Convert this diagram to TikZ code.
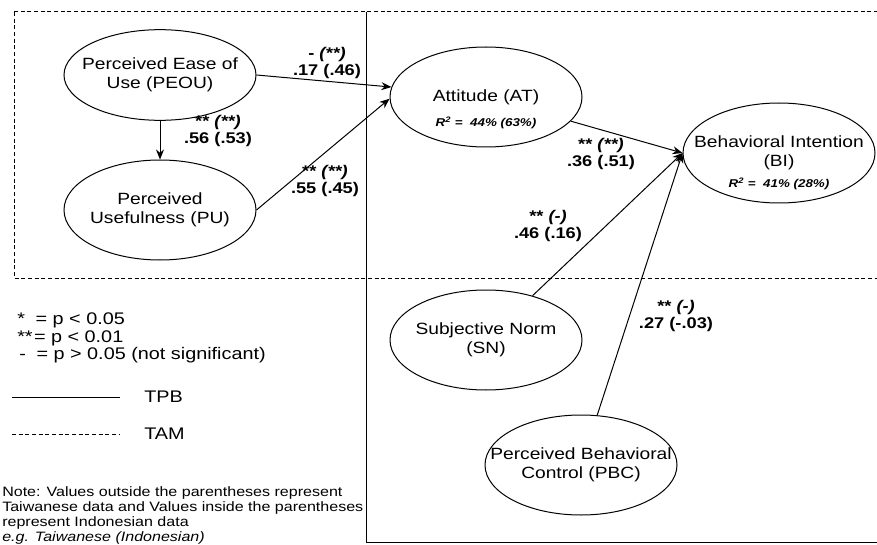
\documentclass[tikz,border=0pt]{standalone}
\usepackage{fontspec}
\setmainfont{Liberation Sans}[FakeStretch=1.18]
\usetikzlibrary{shapes.geometric,arrows.meta}

\tikzset{
  construct/.style={draw, ellipse, line width=0.75pt, inner xsep=-30pt, inner ysep=-6pt,
    minimum width=144pt, minimum height=75pt, align=center,
    font=\fontsize{12.2}{14}\selectfont},
  effect/.style={-{Stealth[length=7.5pt,width=6pt]}, line width=0.75pt},
  coef/.style={align=center, inner sep=0pt, font=\bfseries\fontsize{11.6}{12.2}\selectfont},
  rsq/.style={inner sep=0pt, font=\bfseries\itshape\fontsize{8.5}{10}\selectfont},
  tam/.style={dash pattern=on 3pt off 2pt, line width=0.75pt},
  tpb/.style={line width=0.75pt},
}

\begin{document}
\begin{tikzpicture}[x=0.75pt,y=0.75pt,yscale=-1,xscale=1]
\clip (0,0) rectangle (877,545);

%TAM and TPB frames
\draw[tam] (14,12) rectangle (880,278);
\draw[tpb] (366,12) -- (366,542) -- (880,542);

%Constructs
\node[construct, minimum height=68pt] (peou) at (160,75) {Perceived Ease of\\Use (PEOU)};
\node[construct] (pu) at (160,210) {Perceived\\Usefulness (PU)};
\node[construct] (at) at (486,97) {Attitude (AT)};
\node[construct] (bi) at (779,153) {Behavioral Intention\\(BI)};
\node[construct] (sn) at (486,340) {Subjective Norm\\(SN)};
\node[construct] (pbc) at (581,465) {Perceived Behavioral\\Control (PBC)};

% R square
\node[rsq] (atr) at (486,123) {R\textsuperscript{2} =\ \ 44\% (63\%)};
\node[rsq] (bir) at (779,184) {R\textsuperscript{2} =\ \ 41\% (28\%)};

%Paths
\draw[effect] (peou.east) -- (at.174);
\draw[effect] (peou) -- (pu);
\draw[effect] (pu.east) -- (at.181);
\draw[effect] (at) -- (bi.west);
\draw[effect] (sn) -- (bi.west);
\draw[effect] (pbc) -- (bi.west);

% Coefficients
\node[coef] (c1) at (327,63) {- \textit{(**)}\\.17 (.46)};
\node[coef] (c2) at (218,131) {** \textit{(**)}\\.56 (.53)};
\node[coef] (c3) at (325,181) {** \textit{(**)}\\.55 (.45)};
\node[coef] (c4) at (601,154) {** \textit{(**)}\\.36 (.51)};
\node[coef] (c5) at (548,226) {** \textit{(-)}\\.46 (.16)};
\node[coef] (c6) at (676,316) {** \textit{(-)}\\.27 (-.03)};

% Legend
\node[anchor=west, align=left, inner sep=0pt, font=\fontsize{12.6}{13.2}\selectfont] (sig) at (17,338)
  {*\hspace{8pt}= p < 0.05\\**\hspace{1pt}= p < 0.01\\\hspace{1.5pt}-\hspace{8pt}= p > 0.05 (not significant)};
\draw[tpb] (12,397) -- (120,397);
\node[anchor=west, inner sep=0pt, font=\fontsize{12.6}{14}\selectfont] (tpbkey) at (144,397) {TPB};
\draw[tam] (12,434) -- (120,434);
\node[anchor=west, inner sep=0pt, font=\fontsize{12.6}{14}\selectfont] (tamkey) at (144,434) {TAM};

% Note
\node[anchor=north west, align=left, inner sep=0pt, font=\fontsize{10.2}{11.25}\selectfont] (note) at (2,486)
  {Note: Values outside the parentheses represent\\Taiwanese data and Values inside the parentheses\\represent Indonesian data\\\textit{e.g. Taiwanese (Indonesian)}};
\end{tikzpicture}
\end{document}
